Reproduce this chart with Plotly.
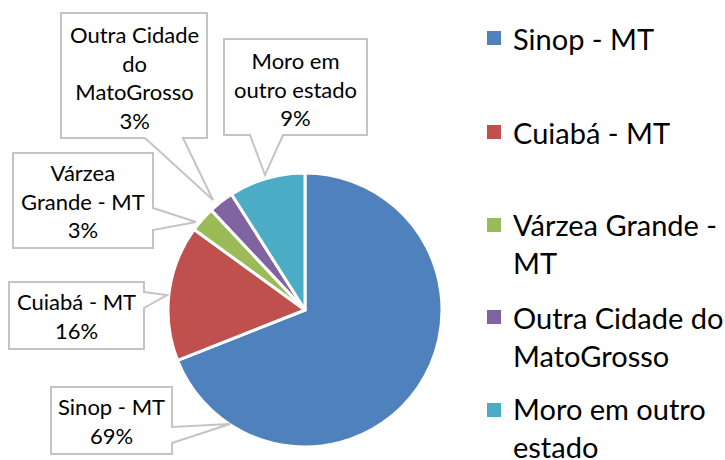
import plotly.graph_objects as go

W, H = 725, 460

categories = ["Sinop - MT", "Cuiabá - MT", "Várzea Grande - MT",
              "Outra Cidade do MatoGrosso", "Moro em outro estado"]
percent = [69, 16, 3, 3, 9]
colors = ["#4F81BD", "#C0504D", "#9BBB59", "#8064A2", "#4BACC6"]

# wrapped text for the callouts and the legend
callout_names = ["Sinop - MT", "Cuiabá - MT", "Várzea<br>Grande - MT",
                 "Outra Cidade<br>do<br>MatoGrosso", "Moro em<br>outro estado"]
legend_names = ["Sinop - MT", "Cuiabá - MT", "Várzea Grande -<br>MT",
                "Outra Cidade do<br>MatoGrosso", "Moro em outro<br>estado"]


def px(x, y):
    return x / W, 1 - y / H


# callout boxes (pixel polygons: box with a pointer wedge) and text centre
callouts = [
    ([(51, 387), (172, 387), (172, 427), (230, 424), (172, 443), (172, 454), (51, 454)], (111.5, 421)),
    ([(9, 282), (144, 282), (144, 292), (167, 295), (144, 308), (144, 349), (9, 349)], (76.5, 316)),
    ([(13, 153), (153, 153), (153, 208), (196, 222), (153, 230), (153, 248), (13, 248)], (83, 201)),
    ([(61, 13), (207, 13), (207, 138), (183, 138), (213, 200), (145, 138), (61, 138)], (134, 77)),
    ([(224, 39), (367, 39), (367, 135), (283, 135), (265, 175), (250, 135), (224, 135)], (295.5, 89)),
]

legend_y = [39, 132, 243.5, 336, 427.5]
legend_sq_y = [38, 132, 225, 317, 410]

cx, cy, r = 305, 310, 137

fig = go.Figure(go.Pie(
    labels=categories,
    values=percent,
    sort=False,
    direction="clockwise",
    rotation=0,
    marker=dict(colors=colors, line=dict(color="white", width=3)),
    textinfo="none",
    hoverinfo="label+percent",
    showlegend=False,
    domain=dict(x=[(cx - r) / W, (cx + r) / W], y=[1 - (cy + r) / H, 1 - (cy - r) / H]),
))

shapes = []
annotations = []
font = dict(family="Lato, sans-serif", color="#000000")

for (poly, (tx, ty)), name, p in zip(callouts, callout_names, percent):
    pts = [px(x, y) for x, y in poly]
    path = "M " + " L ".join(f"{a:.5f},{b:.5f}" for a, b in pts) + " Z"
    shapes.append(dict(type="path", xref="paper", yref="paper", path=path,
                       fillcolor="white", line=dict(color="#C4C4C4", width=2), layer="above"))
    ax, ay = px(tx, ty)
    annotations.append(dict(x=ax, y=ay, xref="paper", yref="paper", showarrow=False,
                            text=f"{name}<br>{p}%", align="center",
                            xanchor="center", yanchor="middle",
                            font=dict(size=22, **font)))

for name, col, ty, sy in zip(legend_names, colors, legend_y, legend_sq_y):
    x0, y0 = px(487, sy - 7)
    x1, y1 = px(501, sy + 7)
    shapes.append(dict(type="rect", xref="paper", yref="paper", x0=x0, x1=x1, y0=y1, y1=y0,
                       fillcolor=col, line=dict(width=0)))
    ax, ay = px(511, ty)
    annotations.append(dict(x=ax, y=ay, xref="paper", yref="paper", showarrow=False,
                            text=name, align="left", xanchor="left", yanchor="middle",
                            font=dict(size=29, **font)))

fig.update_layout(
    width=W, height=H,
    margin=dict(l=0, r=0, t=0, b=0),
    paper_bgcolor="white",
    plot_bgcolor="white",
    shapes=shapes,
    annotations=annotations,
)

# drop the browser's default body margin so the figure sits at the page corner
fig.write_html("out.html", config={"displayModeBar": False},
               post_script="document.body.style.margin='0';")
